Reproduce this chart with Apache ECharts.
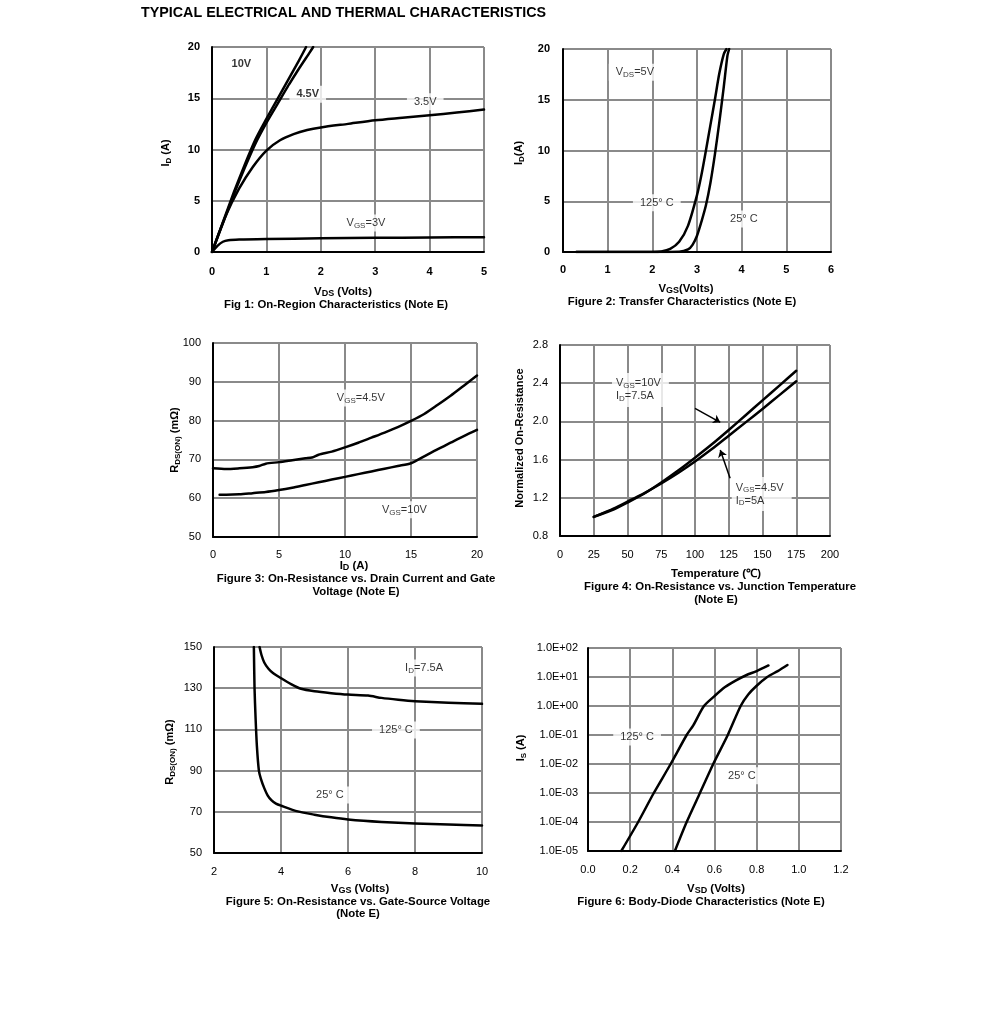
<!DOCTYPE html>
<html>
<head>
<meta charset="utf-8">
<script src="https://cdn.jsdelivr.net/npm/echarts@6/dist/echarts.min.js"></script>
<style>html,body{margin:0;padding:0;background:#fff}#c{width:991px;height:1017px}</style>
</head>
<body>
<div id="c"></div>
<script>
// ---------------- DATA ----------------
// Fig 1: On-Region Characteristics  (VDS [V], ID [A])
const fig1_vgs10  = [[0,0],[0.2,2.9],[0.4,5.8],[0.6,8.5],[0.8,11],[1.0,13],[1.2,14.9],[1.4,16.8],[1.6,18.7],[1.73,20]];
const fig1_vgs45  = [[0,0],[0.2,2.8],[0.4,5.6],[0.6,8.2],[0.8,10.6],[1.0,12.6],[1.2,14.4],[1.4,16.2],[1.6,17.9],[1.8,19.5],[1.86,20]];
const fig1_vgs35  = [[0,0],[0.25,3.5],[0.5,6.2],[0.75,8.3],[1,9.9],[1.25,10.9],[1.5,11.5],[1.75,11.9],[2,12.15],[2.5,12.5],[3,12.85],[3.5,13.1],[4,13.35],[4.5,13.6],[5,13.9]];
const fig1_vgs3   = [[0,0],[0.1,0.6],[0.2,1.0],[0.3,1.15],[0.5,1.22],[1,1.27],[2,1.33],[3,1.38],[4,1.42],[5,1.45]];
const fig1_notes  = [[0.54,18.3,'10V','b'],[1.76,15.4,'4.5V','b'],[3.92,14.66,'3.5V',''],[2.83,2.83,'V_{GS}=3V','']];

// Fig 2: Transfer Characteristics (VGS [V], ID [A])
const fig2_t125 = [[0.3,0],[1,0],[2,0],[2.2,0.05],[2.4,0.3],[2.6,1.0],[2.8,2.6],[3.0,5.6],[3.1,7.6],[3.2,10],[3.3,12.5],[3.4,15],[3.5,17.6],[3.6,19.5],[3.66,20]];
const fig2_t25  = [[0.3,0],[2,0],[2.6,0.02],[2.8,0.25],[2.9,0.7],[3.0,1.6],[3.1,3.0],[3.2,4.6],[3.3,6.8],[3.4,9.6],[3.5,12.8],[3.6,16.3],[3.68,19.3],[3.72,20]];
const fig2_notes = [[1.61,17.7,'V_{DS}=5V',''],[2.1,4.86,'125° C',''],[4.05,3.25,'25° C','']];

// Fig 3: On-Resistance vs Drain Current (ID [A], RDS(ON) [mOhm])
const fig3_vgs45 = [[0,67.7],[1,67.5],[2,67.7],[3,68],[3.5,68.3],[4,68.9],[5,69.3],[6,69.8],[7,70.3],[7.5,70.5],[8,71.2],[9,72],[10,73.1],[11,74.3],[12,75.6],[13,76.9],[14,78.3],[15,79.9],[16,81.7],[17,84],[18,86.4],[19,89],[20,91.6]];
const fig3_vgs10 = [[0.5,60.9],[1,60.9],[2,61],[3,61.3],[4,61.6],[5,62.1],[6,62.7],[7,63.4],[8,64.1],[9,64.8],[10,65.5],[11,66.2],[12,66.9],[13,67.6],[14,68.3],[15,69],[16,70.8],[17,72.6],[18,74.3],[19,76],[20,77.6]];
const fig3_notes = [[11.2,85.8,'V_{GS}=4.5V',''],[14.5,57.0,'V_{GS}=10V','']];

// Fig 4: Normalized On-Resistance vs Temperature (T [C])
const fig4_vgs10 = [[25,1.0],[40,1.08],[50,1.15],[62.5,1.245],[75,1.36],[87.5,1.485],[100,1.62],[112.5,1.76],[125,1.91],[137.5,2.065],[150,2.22],[162.5,2.375],[175,2.53]];
const fig4_vgs45 = [[25,1.0],[40,1.09],[50,1.16],[62.5,1.25],[75,1.35],[87.5,1.46],[100,1.58],[112.5,1.71],[125,1.85],[137.5,1.99],[150,2.13],[162.5,2.275],[175,2.42]];
const fig4_notes = [[38.5,2.33,'V_{GS}=10V\nI_{D}=7.5A',''],[127.2,1.24,'V_{GS}=4.5V\nI_{D}=5A','']];
const fig4_arrows = [[100,2.137,118.7,1.99],[126,1.404,118.7,1.70]];

// Fig 5: On-Resistance vs Gate-Source Voltage (VGS [V], RDS(ON) [mOhm])
const fig5_t125 = [[3.36,150],[3.42,146],[3.5,142.5],[3.62,139.6],[3.76,137.4],[4,134.9],[4.3,132],[4.6,129.7],[5,128.5],[5.5,127.6],[6,126.9],[6.6,126.4],[7,125.3],[7.5,124.4],[8,123.7],[9,122.9],[10,122.4]];
const fig5_t25  = [[3.19,150],[3.21,130],[3.24,116],[3.28,102],[3.34,90],[3.4,86],[3.5,81.5],[3.6,78],[3.72,75.5],[3.85,74],[4,73],[4.5,70.2],[5,68.6],[5.5,67.3],[6,66.3],[7,65.1],[8,64.3],[9,63.8],[10,63.4]];
const fig5_notes = [[8.27,139.8,'I_{D}=7.5A',''],[7.43,109.7,'125° C',''],[5.46,78.2,'25° C','']];

// Fig 6: Body-Diode Characteristics (VSD [V], IS [A], log)
const fig6_t125 = [[0.158,1e-5],[0.238,1e-4],[0.312,1e-3],[0.392,1e-2],[0.468,1e-1],[0.5,0.22],[0.55,1.0],[0.6,2.2],[0.65,4.5],[0.7,7.5],[0.75,11.5],[0.8,16],[0.856,25]];
const fig6_t25  = [[0.412,1e-5],[0.468,1e-4],[0.531,1e-3],[0.594,1e-2],[0.663,1e-1],[0.724,1],[0.76,2.5],[0.8,5],[0.85,10],[0.9,16],[0.946,26]];
const fig6_notes = [[0.233,0.085,'125° C',''],[0.73,0.0039,'25° C','']];

// Text
const pageTitle = 'TYPICAL ELECTRICAL AND THERMAL CHARACTERISTICS';
const captions = [
  {x:343,y:292,t:'V_{DS} (Volts)'}, {x:336,y:305,t:'Fig 1: On-Region Characteristics (Note E)'},
  {x:686,y:289,t:'V_{GS}(Volts)'}, {x:682,y:302,t:'Figure 2: Transfer Characteristics (Note E)'},
  {x:354,y:566,t:'I_{D} (A)'}, {x:356,y:579,t:'Figure 3: On-Resistance vs. Drain Current and Gate'}, {x:356,y:592,t:'Voltage (Note E)'},
  {x:716,y:574,t:'Temperature (℃)'}, {x:720,y:587,t:'Figure 4: On-Resistance vs. Junction Temperature'}, {x:716,y:600,t:'(Note E)'},
  {x:360,y:889,t:'V_{GS} (Volts)'}, {x:358,y:902,t:'Figure 5: On-Resistance vs. Gate-Source Voltage'}, {x:358,y:914,t:'(Note E)'},
  {x:716,y:889,t:'V_{SD} (Volts)'}, {x:701,y:902,t:'Figure 6: Body-Diode Characteristics (Note E)'}
];
const yTitles = [
  {x:166,y:153,t:'I_{D} (A)'}, {x:519,y:153,t:'I_{D}(A)'}, {x:175,y:440,t:'R_{DS(ON)} (mΩ)'},
  {x:520,y:438,t:'Normalized On-Resistance'}, {x:170,y:752,t:'R_{DS(ON)} (mΩ)'}, {x:521,y:748,t:'I_{S} (A)'}
];

// ---------------- HELPERS ----------------
const FONT = '"Liberation Sans", Arial, Helvetica, sans-serif';
function toRich(s) {
  return s.split('\n').map(line => {
    const parts = line.split(/_\{([^}]*)\}/);
    let out = '';
    parts.forEach((p, i) => { if (p) out += (i % 2 ? '{s|' : '{n|') + p + '}'; });
    return out;
  }).join('\n');
}
function richStyles(bold, size) {
  size = size || 11;
  const w = bold ? 'bold' : 'normal';
  return {
    n: {fontSize: size, fontFamily: FONT, fontWeight: w, color: '#000', lineHeight: 13},
    s: {fontSize: Math.round(size * 0.75), fontFamily: FONT, fontWeight: w, color: '#000', lineHeight: 7, verticalAlign: 'bottom'}
  };
}
const grids = [
  {left:212, top:47, width:272, height:205},
  {left:563, top:49, width:268, height:203},
  {left:213, top:343, width:264, height:194},
  {left:560, top:345, width:270, height:191},
  {left:214, top:647, width:268, height:206},
  {left:588, top:648, width:253, height:203}
];
function mkAxis(idx, o) {
  return Object.assign({
    type: 'value', gridIndex: idx,
    axisLine: {show: true, onZero: false, lineStyle: {color: '#000', width: 2}},
    axisTick: {show: false},
    splitLine: {show: true, showMinLine: false, lineStyle: {color: '#8a8a8a', width: 2}},
    axisLabel: {color: '#000', fontSize: 11, fontFamily: FONT, fontWeight: o.bold ? 'bold' : 'normal', margin: o.margin, formatter: o.fmt}
  }, o.extra || {}, {min: o.min, max: o.max, interval: o.interval});
}
const f1 = v => v.toFixed(1);
const fLog = v => { const e = Math.round(Math.log10(v)); return '1.0E' + (e < 0 ? '-' : '+') + String(Math.abs(e)).padStart(2, '0'); };

const xAxes = [
  mkAxis(0, {min:0, max:5, interval:1, bold:true, margin:14}),
  mkAxis(1, {min:0, max:6, interval:1, bold:true, margin:12}),
  mkAxis(2, {min:0, max:20, interval:5, margin:12}),
  mkAxis(3, {min:0, max:200, interval:25, margin:13}),
  mkAxis(4, {min:2, max:10, interval:2, margin:13}),
  mkAxis(5, {min:0, max:1.2, interval:0.2, margin:13, fmt:f1})
];
const yAxes = [
  mkAxis(0, {min:0, max:20, interval:5, bold:true, margin:12}),
  mkAxis(1, {min:0, max:20, interval:5, bold:true, margin:13}),
  mkAxis(2, {min:50, max:100, interval:10, margin:12}),
  mkAxis(3, {min:0.8, max:2.8, interval:0.4, margin:12, fmt:f1}),
  mkAxis(4, {min:50, max:150, interval:20, margin:12}),
  Object.assign(mkAxis(5, {margin:10, fmt:fLog}), {type:'log', logBase:10, min:1e-5, max:100, splitNumber:7, interval:undefined})
];

function curve(idx, data, extra) {
  return Object.assign({
    type: 'line', xAxisIndex: idx, yAxisIndex: idx, data: data,
    showSymbol: false, symbol: 'none', smooth: 0.25,
    lineStyle: {color: '#000', width: 2.5, join: 'round', cap: 'round'}, z: 3, silent: true, animation: false
  }, extra || {});
}
function notes(idx, arr, align) {
  return arr.map(n => ({
    type: 'scatter', xAxisIndex: idx, yAxisIndex: idx, z: 6, silent: true, animation: false,
    symbolSize: 1, itemStyle: {color: 'rgba(0,0,0,0)'},
    data: [[n[0], n[1]]],
    label: {
      show: true, position: 'inside', align: align || 'center', verticalAlign: 'middle',
      formatter: toRich(n[2]), rich: richStyles(n[3] === 'b'),
      backgroundColor: '#fff', padding: align === 'left' ? [4, 8, 4, 4] : [2, 7]
    }
  }));
}

const series = [
  curve(0, fig1_vgs10), curve(0, fig1_vgs45), curve(0, fig1_vgs35), curve(0, fig1_vgs3),
  curve(1, fig2_t125), curve(1, fig2_t25),
  curve(2, fig3_vgs45), curve(2, fig3_vgs10),
  curve(3, fig4_vgs10, {markLine: {
    silent: true, animation: false, symbol: ['none', 'arrow'], symbolSize: 7,
    lineStyle: {color: '#000', width: 1.5, type: 'solid'}, label: {show: false},
    data: fig4_arrows.map(a => [{coord: [a[0], a[1]]}, {coord: [a[2], a[3]]}])
  }}),
  curve(3, fig4_vgs45),
  curve(4, fig5_t125), curve(4, fig5_t25),
  curve(5, fig6_t125), curve(5, fig6_t25)
].concat(notes(0, fig1_notes), notes(1, fig2_notes), notes(2, fig3_notes),
         notes(3, fig4_notes, 'left'), notes(4, fig5_notes), notes(5, fig6_notes));

const capStyle = () => { const r = richStyles(true, 11.4); return r; };
const graphics = [
  {type: 'text', left: 141, top: 6, style: {text: pageTitle, font: 'bold 14.3px ' + FONT, fill: '#000'}}
].concat(captions.map(c => ({
  type: 'text', x: c.x, y: c.y, silent: true,
  style: {text: toRich(c.t), rich: capStyle(), align: 'center', verticalAlign: 'middle', textAlign: 'center', textVerticalAlign: 'middle'}
}))).concat(yTitles.map(c => ({
  type: 'text', x: c.x, y: c.y, rotation: Math.PI / 2, silent: true,
  style: {text: toRich(c.t), rich: richStyles(true), align: 'center', verticalAlign: 'middle', textAlign: 'center', textVerticalAlign: 'middle'}
})));

const chart = echarts.init(document.getElementById('c'), null, {renderer: 'canvas'});
chart.setOption({
  backgroundColor: '#fff',
  animation: false,
  grid: grids,
  xAxis: xAxes,
  yAxis: yAxes,
  series: series,
  graphic: graphics
});
</script>
</body>
</html>
